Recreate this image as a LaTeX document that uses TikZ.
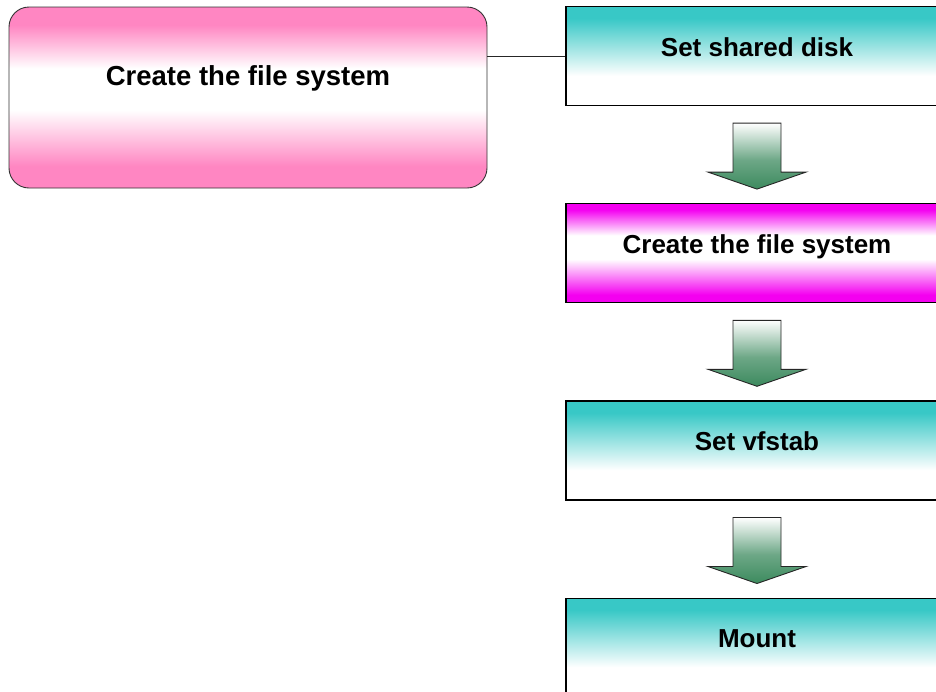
\documentclass[tikz,border=0pt]{standalone}
\usepackage{fontspec}
\setmainfont{Liberation Sans}
\usetikzlibrary{positioning,calc}
\definecolor{stepteal}{HTML}{38C8C6}
\definecolor{stepmagenta}{HTML}{F400F0}
\definecolor{steppink}{HTML}{FF86C2}
\definecolor{arrowgreen}{HTML}{3C8A5E}
% the visible part of a shading runs from 25bp to 75bp
\pgfdeclareverticalshading{tealfade}{100bp}{color(0bp)=(white); color(40bp)=(white); color(69bp)=(stepteal); color(100bp)=(stepteal)}
\pgfdeclareverticalshading{magentafade}{100bp}{color(0bp)=(stepmagenta); color(29bp)=(stepmagenta); color(47bp)=(white); color(59bp)=(white); color(72bp)=(stepmagenta); color(100bp)=(stepmagenta)}
\pgfdeclareverticalshading{pinkfade}{100bp}{color(0bp)=(steppink); color(31bp)=(steppink); color(46.5bp)=(white); color(58bp)=(white); color(70bp)=(steppink); color(100bp)=(steppink)}
\pgfdeclareverticalshading{greenfade}{100bp}{color(0bp)=(arrowgreen); color(25bp)=(arrowgreen); color(47bp)=(arrowgreen!75); color(75bp)=(white); color(100bp)=(white)}

\begin{document}
\begin{tikzpicture}[
  x=1pt, y=1pt,
  node distance=97pt,
  stepbox/.style={draw=black, line width=1.2pt, shade, shading=tealfade, minimum width=382pt, minimum height=99pt, inner sep=0pt, text height=5pt, text depth=5pt, font=\fontsize{26}{30}\selectfont\bfseries},
  phasebox/.style={draw=black!80, line width=0.9pt, rounded corners=20pt, shade, shading=pinkfade, minimum width=478pt, minimum height=181pt, inner sep=0pt, text height=5pt, text depth=30pt, font=\fontsize{27.5}{32}\selectfont\bfseries},
  blockarrow/.style={draw=black!85, line width=0.9pt, shade, shading=greenfade},
  link/.style={draw=black!85, line width=1pt}
]
\useasboundingbox (0,0) rectangle (936,-691);
\clip (0,0) rectangle (936,-691);

\node[phasebox] (phase) at (248,-97.5) {Create the file system};
\node[stepbox] (disk) at (757,-56) {Set shared disk};
\node[stepbox, shading=magentafade, below=of disk] (fsys) {Create the file system};
\node[stepbox, below=of fsys] (vfstab) {Set vfstab};
\node[stepbox, below=of vfstab] (mount) {Mount};

\draw[link] (phase.east |- disk.west) -- (disk.west);

% block arrows between the steps
\foreach \a/\b in {disk/fsys, fsys/vfstab, vfstab/mount}{
  \path[blockarrow] ($(\a.south)+(-24,-17)$) -- ($(\a.south)+(24,-17)$)
    -- ($(\b.north)+(24,31)$) -- ($(\b.north)+(49,31)$) -- ($(\b.north)+(0,14)$)
    -- ($(\b.north)+(-49,31)$) -- ($(\b.north)+(-24,31)$) -- cycle;
}
\end{tikzpicture}
\end{document}
